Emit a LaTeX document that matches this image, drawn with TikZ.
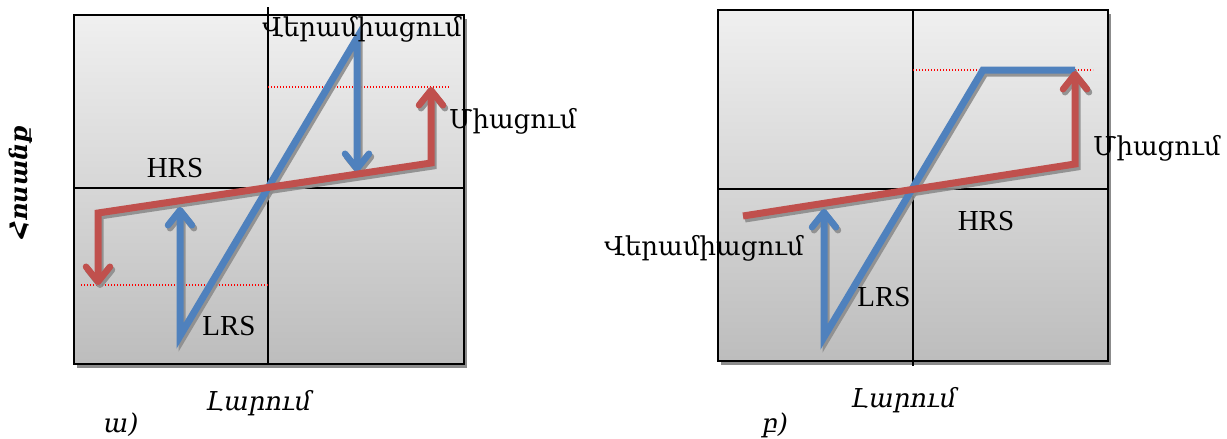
\documentclass[tikz,border=0pt]{standalone}
\usepackage{fontspec}
\setmainfont{Liberation Serif}
\newfontfamily\armfont{DejaVu Serif}
\usetikzlibrary{arrows.meta}
\definecolor{setblue}{RGB}{79,129,189}
\definecolor{resetred}{RGB}{192,80,77}
\newcommand\lblsize{\fontsize{26}{30}\selectfont}

\tikzset{
  panel/.style={draw=black, line width=1.8pt, top color=black!6, bottom color=black!26},
  panelshadow/.style={fill=black!45},
  axis/.style={line width=1.3pt},
  level/.style={draw=red, line width=1.1pt, dash pattern=on 1.2pt off 1.8pt},
  openhead/.tip={Straight Barb[length=15pt, width=24pt, line width=6.5pt, round]},
  curve/.style={line width=7pt, line join=miter, line cap=butt},
  curveshadow/.style={curve, draw=black!45, opacity=.9, transform canvas={shift={(2pt,-3pt)}}},
  bluecurve/.style={curve, draw=setblue},
  redcurve/.style={curve, draw=resetred},
  lbl/.style={font=\fontsize{29}{33}\selectfont, inner sep=0pt, anchor=base},
  armlbl/.style={lbl, font=\lblsize\armfont},
}

\begin{document}
\begin{tikzpicture}[x=1pt,y=-1pt]
\useasboundingbox (0,0) rectangle (1227,439);

% panel a
\begin{scope}[shift={(268,188)}]
\fill[panelshadow] (-191,-169) rectangle (199,180);
\draw[panel] (-194,-173) rectangle (196,176);
\coordinate (aN) at (0,-181);
\coordinate (aS) at (0,176);
\coordinate (aW) at (-194,0);
\coordinate (aE) at (196,0);
\draw[axis] (aN) -- (aS);
\draw[axis] (aW) -- (aE);
% red: reset branch
\coordinate (aRL) at (-170,25);
\coordinate (aRR) at (163,-25);
\coordinate (aRup) at (163,-101);
\coordinate (aRdn) at (-170,97);
% blue: set branch
\coordinate (aBlo) at (-88,148);
\coordinate (aBhi) at (89,-150);
\coordinate (aBup) at (-88,19);
\coordinate (aBdn) at (89,-16);
% dotted levels
\coordinate (aTop0) at (0,-101);
\coordinate (aTop1) at (181,-101);
\coordinate (aBot0) at (-187,97);
\coordinate (aBot1) at (0,97);
\draw[level] (aTop0) -- (aTop1);
\draw[level] (aBot0) -- (aBot1);
\draw[curveshadow, {openhead}-{openhead}] (aBup) -- (aBlo) -- (aBhi) -- (aBdn);
\draw[curveshadow, {openhead}-{openhead}] (aRdn) -- (aRL) -- (aRR) -- (aRup);
\draw[bluecurve, {openhead}-{openhead}] (aBup) -- (aBlo) -- (aBhi) -- (aBdn);
\draw[redcurve, {openhead}-{openhead}] (aRdn) -- (aRL) -- (aRR) -- (aRup);
\end{scope}
\node[armlbl] (aReset) at (362,36) {Վերամիացում};
\node[armlbl, anchor=base west] (aSet) at (449,128) {Միացում};
\node[lbl] (aHRS) at (175,177) {HRS};
\node[lbl] (aLRS) at (229,335) {LRS};
\node[armlbl, font=\lblsize\armfont\itshape] (aV) at (259,410) {Լարում};
\node[armlbl, font=\lblsize\armfont\itshape] (aCap) at (121,432) {ա)};
\node[armlbl, anchor=center, rotate=90, font=\fontsize{24}{28}\selectfont\armfont\bfseries\itshape] (aI) at (21,182) {Հոսանք};

% panel b
\begin{scope}[shift={(913,189)}]
\fill[panelshadow] (-192,-175) rectangle (198,176);
\draw[panel] (-195,-179) rectangle (195,172);
\coordinate (bN) at (0,-179);
\coordinate (bS) at (0,177);
\coordinate (bW) at (-195,0);
\coordinate (bE) at (195,0);
\draw[axis] (bN) -- (bS);
\draw[axis] (bW) -- (bE);
% red: reset branch
\coordinate (bRL) at (-170,27);
\coordinate (bRR) at (162,-25);
\coordinate (bRup) at (162,-118);
% blue: set branch
\coordinate (bBlo) at (-89,148);
\coordinate (bBknee) at (70,-119);
\coordinate (bBend) at (162,-119);
\coordinate (bBup) at (-89,20);
% dotted level
\coordinate (bTop0) at (0,-119);
\coordinate (bTop1) at (180,-119);
\draw[level] (bTop0) -- (bTop1);
\draw[curveshadow, {openhead}-] (bBup) -- (bBlo) -- (bBknee) -- (bBend);
\draw[curveshadow, -{openhead}] (bRL) -- (bRR) -- (bRup);
\draw[bluecurve, {openhead}-] (bBup) -- (bBlo) -- (bBknee) -- (bBend);
\draw[redcurve, -{openhead}] (bRL) -- (bRR) -- (bRup);
\end{scope}
\node[armlbl] (bReset) at (704,255) {Վերամիացում};
\node[armlbl, anchor=base west] (bSet) at (1093,155) {Միացում};
\node[lbl] (bHRS) at (986,230) {HRS};
\node[lbl] (bLRS) at (884,306) {LRS};
\node[armlbl, font=\lblsize\armfont\itshape] (bV) at (904,407) {Լարում};
\node[armlbl, font=\lblsize\armfont\itshape] (bCap) at (775,432) {բ)};
\end{tikzpicture}
\end{document}
